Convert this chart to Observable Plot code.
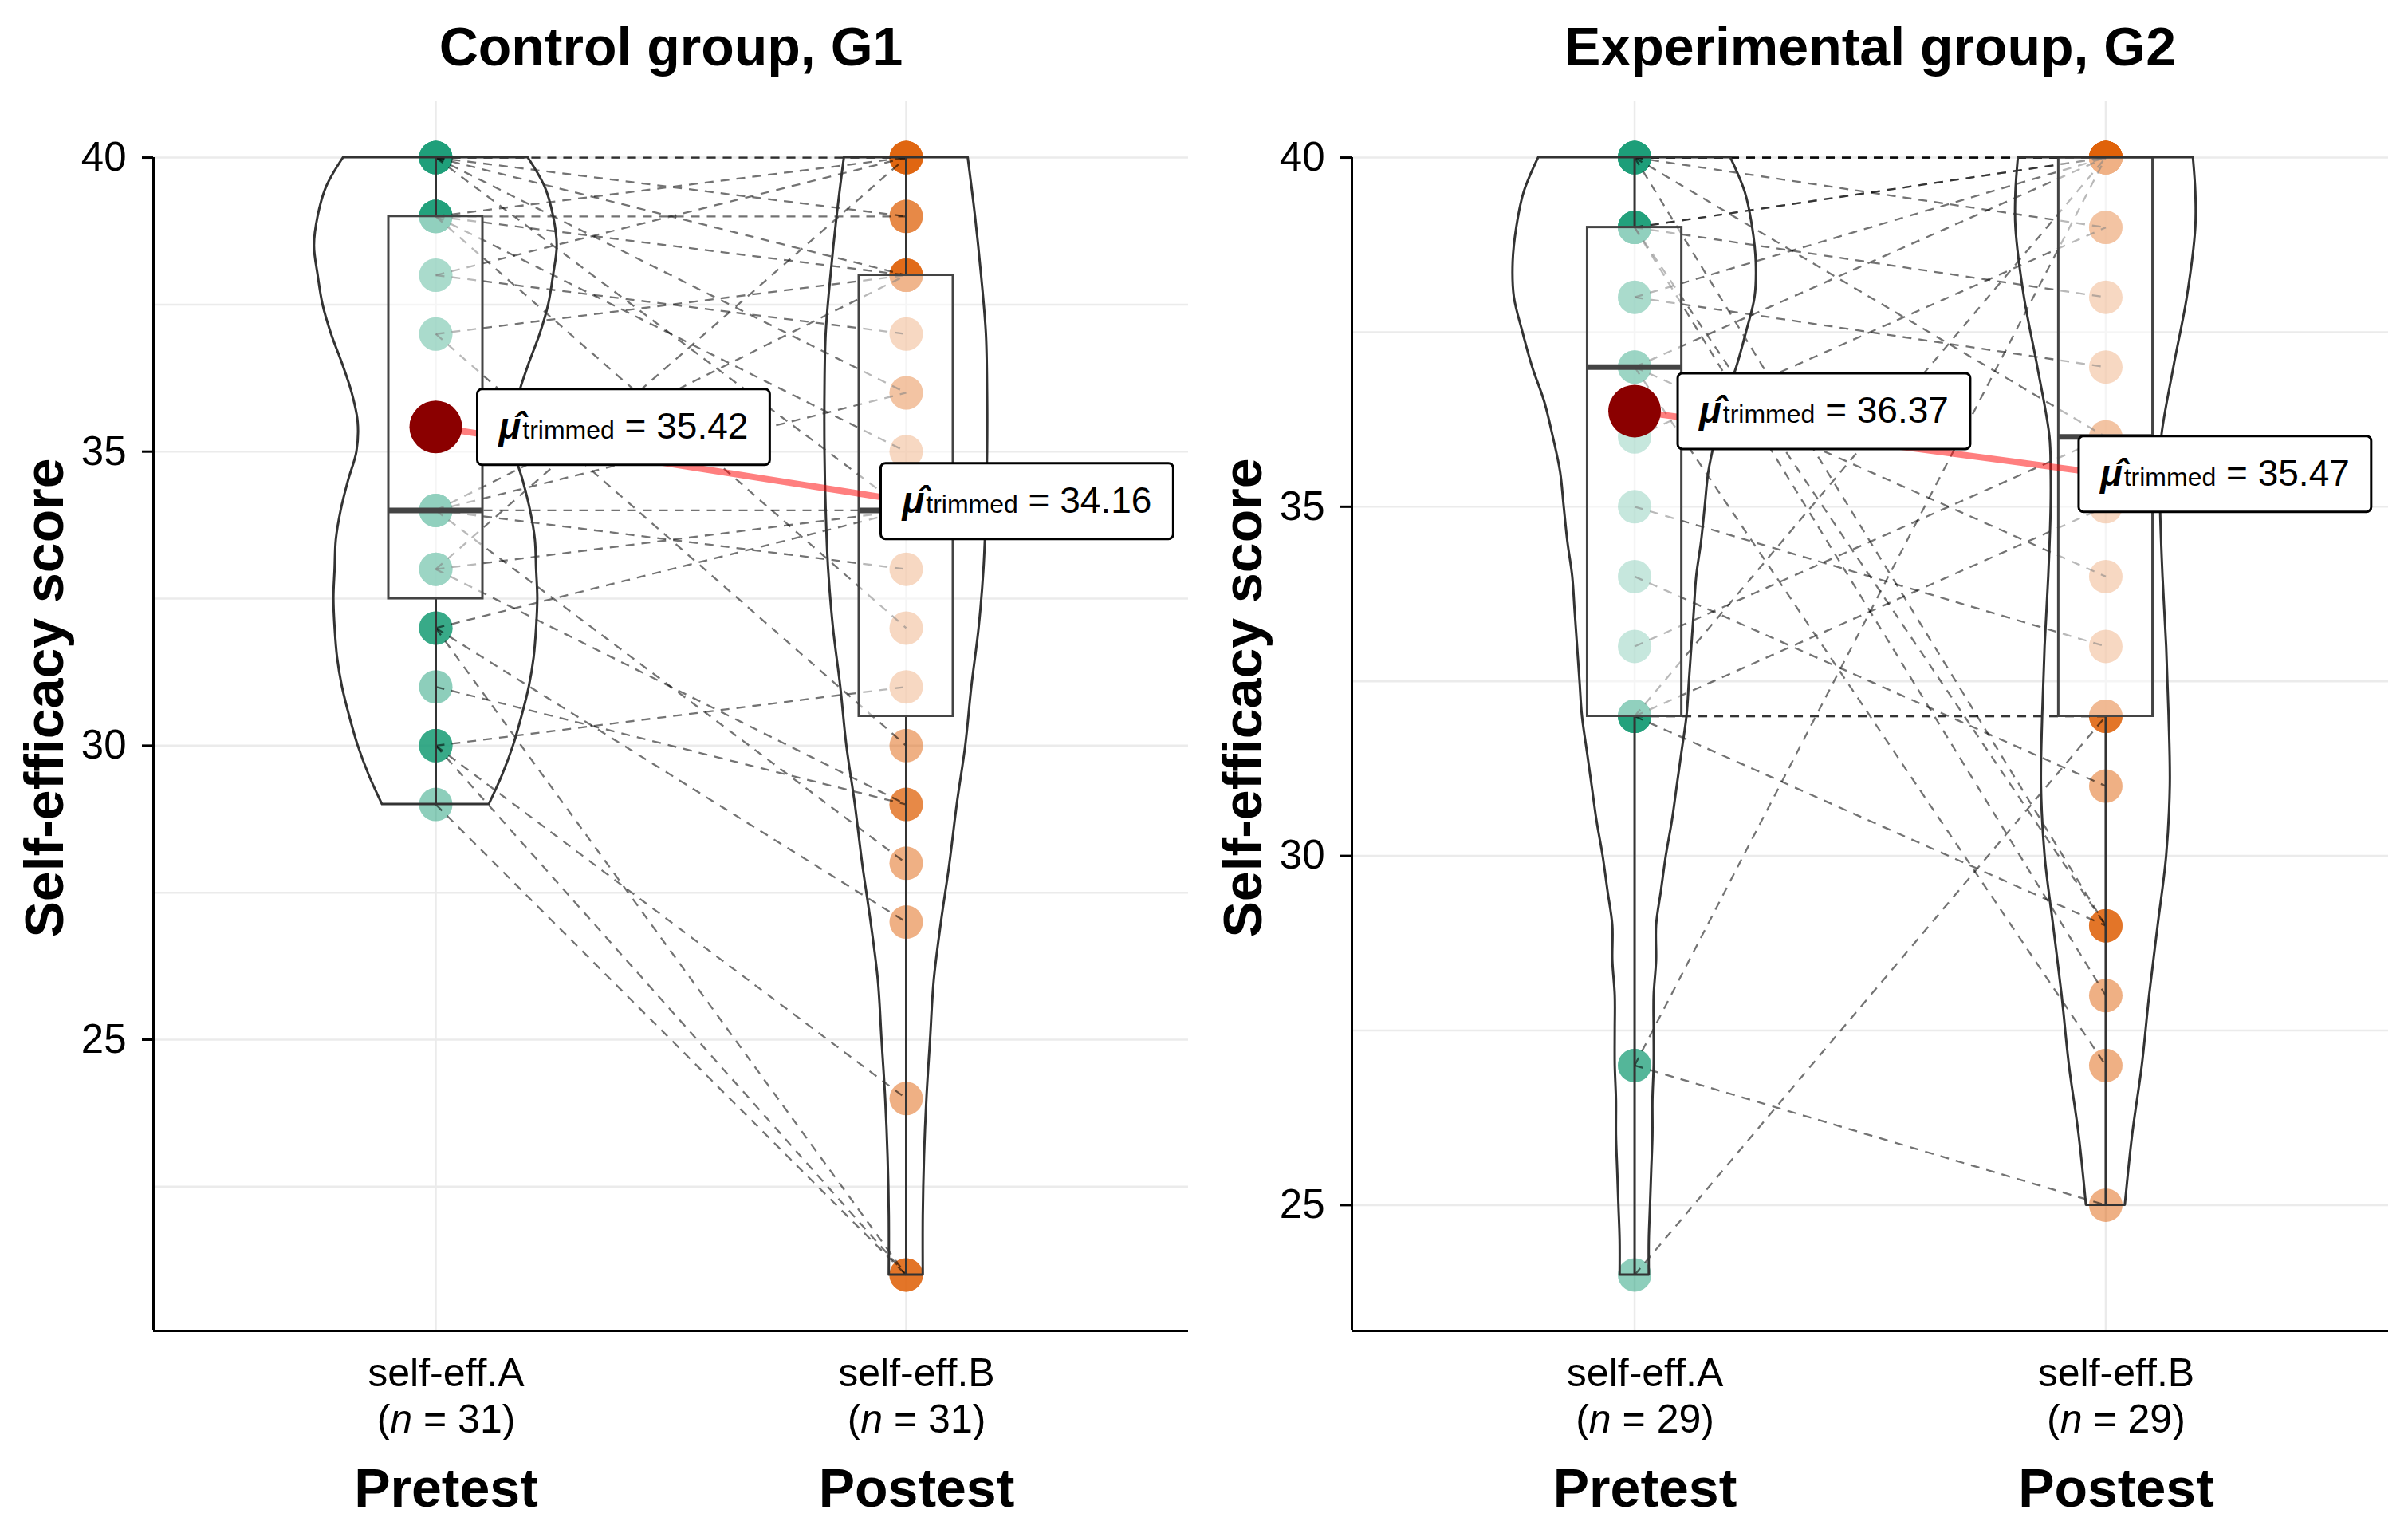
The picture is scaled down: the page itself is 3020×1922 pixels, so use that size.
<!DOCTYPE html>
<html>
<head>
<meta charset="utf-8">
<script src="https://cdn.jsdelivr.net/npm/d3@7"></script>
<script src="https://cdn.jsdelivr.net/npm/@observablehq/plot@0.6"></script>
<style>
  html, body { margin: 0; padding: 0; background: #ffffff; }
  #wrap { display: flex; width: 3020px; height: 1922px; overflow: hidden; }
</style>
</head>
<body>
<div id="wrap"></div>
<script>
// ---------------- data ----------------
const panelTitles = ["Control group, G1", "Experimental group, G2"];
const conditions = ["self-eff.A", "self-eff.B"];
const phases = ["Pretest", "Postest"];
const yTitle = "Self-efficacy score";
const yTicks = [25, 30, 35, 40];
const yMinorG1 = [22.5, 27.5, 32.5, 37.5];
const yMinorG2 = [27.5, 32.5, 37.5];

// paired scores (one entry per participant)
const g1Pre  = [40,40,40,40,40,40,39,39,39,39,39,38,38,37,37,34,34,34,34,34,33,33,33,32,32,32,31,30,30,30,29];
const g1Post = [40,40,39,38,34,36,40,39,38,35,32,40,37,38,30,34,38,33,28,36,34,40,29,34,27,21,29,31,21,24,21];
const g2Pre  = [40,40,40,40,40,40,40,39,39,39,39,39,38,38,37,37,37,36,35,34,33,32,32,32,32,32,27,27,24];
const g2Post = [40,40,40,39,36,29,40,40,40,38,28,29,40,37,40,34,27,39,33,31,36,32,32,29,40,35,40,25,32];

// 20% trimmed means (labels)
const g1Trimmed = [35.42, 34.16];
const g2Trimmed = [36.37, 35.47];

// box statistics: [lower whisker, Q1, median, Q3, upper whisker]
const g1Box = [[29, 32.5, 34, 39, 40], [21, 30.5, 34, 38, 40]];
const g2Box = [[24, 32, 37, 39, 40], [25, 32, 36, 40, 40]];

// violin density profiles (relative density at each score level)
const g1PreViolinY  = [40,39.5,39,38.5,38,37.5,37,36.5,36,35.5,35,34.5,34,33.5,33,32.5,32,31.5,31,30.5,30,29.5,29];
const g1PreViolinD  = [0.76,0.90,0.97,1.0,0.97,0.93,0.86,0.77,0.69,0.64,0.65,0.72,0.78,0.82,0.83,0.84,0.83,0.81,0.77,0.71,0.64,0.55,0.44];
const g1PostViolinY = [40,39,38,37,36,35,34,33,32,31,30,29,28,27,26,25,24,23,22,21];
const g1PostViolinD = [0.51,0.57,0.62,0.66,0.67,0.67,0.66,0.64,0.60,0.54,0.49,0.42,0.36,0.29,0.23,0.20,0.17,0.15,0.14,0.14];
const g2PreViolinY  = [40,39.5,39,38.5,38,37.5,37,36.5,36,35.5,35,34.5,34,33.5,33,32.5,32,31.5,31,30.5,30,29.5,29,28.5,28,27.5,27,26.5,26,25.5,25,24.5,24];
const g2PreViolinD  = [0.79,0.91,0.97,1.0,0.99,0.92,0.84,0.74,0.67,0.61,0.58,0.55,0.51,0.49,0.47,0.45,0.43,0.39,0.35,0.31,0.26,0.22,0.18,0.18,0.16,0.16,0.16,0.15,0.15,0.14,0.13,0.12,0.12];
const g2PostViolinY = [40,39.5,39,38,37,36,35.5,35,34,33,32,31,30,29,28,27,26,25];
const g2PostViolinD = [0.72,0.74,0.74,0.67,0.56,0.46,0.45,0.45,0.47,0.50,0.52,0.53,0.50,0.43,0.36,0.30,0.22,0.16];

// ---------------- styles ----------------
const TEAL = "#1B9E77";
const ORANGE = "#E0620A";
const FONT = "'Liberation Sans', Arial, Helvetica, sans-serif";
const BOX_HALF = 0.1;
const VIOLIN_HALF = 0.258;
const xPos = conditions.map((c, i) => i + 1);

function makePanel(cfg) {
  const obs = cfg.pre.map((v, i) => ({pre: v, post: cfg.post[i]}));
  const all = cfg.pre.concat(cfg.post);
  const [lo, hi] = d3.extent(all);
  const pad = (hi - lo) * 0.05;
  const yDomain = [lo - pad, hi + pad];
  const xDomain = [xPos[0] - 0.6, xPos[1] + 0.6];

  const preRows = cfg.pre.map(v => ({pos: xPos[0], value: v}));
  const postRows = cfg.post.map(v => ({pos: xPos[1], value: v}));
  const boxRows = cfg.box.map((b, i) => ({pos: xPos[i], lo: b[0], q1: b[1], med: b[2], q3: b[3], hi: b[4]}));
  const violinRows = [];
  cfg.violins.forEach((v, i) => v.y.forEach((y, j) => violinRows.push({key: i, pos: xPos[i], y, d: v.d[j]})));
  const meanRows = cfg.means.map((m, i) => ({pos: xPos[i], mean: m, label: m.toFixed(2)}));
  const labelRows = conditions.map((c, i) => ({pos: xPos[i], tick: `${c}\n(n = ${cfg.pre.length})`, phase: phases[i]}));

  return Plot.plot({
    width: 1510,
    height: 1922,
    marginTop: 127,
    marginBottom: 254,
    marginLeft: cfg.marginLeft,
    marginRight: cfg.marginRight,
    x: {domain: xDomain, axis: null},
    y: {domain: yDomain},
    style: {fontFamily: FONT, fontSize: "50px", color: "black", background: "white", maxWidth: "none", overflow: "visible"},
    marks: [
      // grid
      Plot.ruleY(cfg.minor, {stroke: "#EBEBEB", strokeWidth: 2.5}),
      Plot.ruleY(yTicks, {stroke: "#EBEBEB", strokeWidth: 2.5}),
      Plot.ruleX(xPos, {stroke: "#EBEBEB", strokeWidth: 2.5}),
      // points
      Plot.dot(preRows, {x: "pos", y: "value", r: 21, fill: TEAL, fillOpacity: 0.5, stroke: null}),
      Plot.dot(postRows, {x: "pos", y: "value", r: 21, fill: ORANGE, fillOpacity: 0.5, stroke: null}),
      // paired paths
      Plot.link(obs, {x1: () => xPos[0], y1: "pre", x2: () => xPos[1], y2: "post",
        stroke: "black", strokeOpacity: 0.55, strokeWidth: 2.3, strokeDasharray: "11,9"}),
      // boxplots
      Plot.ruleX(boxRows, {x: "pos", y1: "lo", y2: "q1", stroke: "#333", strokeWidth: 3}),
      Plot.ruleX(boxRows, {x: "pos", y1: "q3", y2: "hi", stroke: "#333", strokeWidth: 3}),
      Plot.rect(boxRows, {x1: d => d.pos - BOX_HALF, x2: d => d.pos + BOX_HALF, y1: "q1", y2: "q3",
        fill: "white", fillOpacity: 0.5, stroke: "#444", strokeWidth: 3}),
      Plot.ruleY(boxRows, {x1: d => d.pos - BOX_HALF, x2: d => d.pos + BOX_HALF, y: "med", stroke: "#444", strokeWidth: 7}),
      // violins
      Plot.areaX(violinRows, {z: "key", y: "y", x1: d => d.pos - VIOLIN_HALF * d.d, x2: d => d.pos + VIOLIN_HALF * d.d,
        fill: "none", stroke: "#333", strokeWidth: 3, curve: "catmull-rom"}),
      // trimmed means
      Plot.line(meanRows, {x: "pos", y: "mean", stroke: "red", strokeOpacity: 0.5, strokeWidth: 8}),
      Plot.dot(meanRows, {x: "pos", y: "mean", r: 33, fill: "#8B0000", stroke: null}),
      Plot.text([meanRows[0]], {x: "pos", y: "mean", text: "label", dx: cfg.labelDx[0], textAnchor: "start",
        lineAnchor: "middle", fontSize: 46}),
      Plot.text([meanRows[1]], {x: "pos", y: "mean", text: "label", dx: cfg.labelDx[1], textAnchor: "start",
        lineAnchor: "middle", fontSize: 46}),
      // axes
      Plot.axisY({ticks: yTicks, tickSize: 14, tickPadding: 20, fontSize: 51, label: null, strokeWidth: 3}),
      Plot.ruleX([xDomain[0]], {y1: yDomain[0], y2: d3.max(yTicks), stroke: "black", strokeWidth: 3}),
      Plot.ruleY([yDomain[0]], {stroke: "black", strokeWidth: 3}),
      Plot.text(labelRows, {x: "pos", text: "tick", frameAnchor: "bottom", lineAnchor: "top", dy: 28, dx: 13,
        fontSize: 50, lineHeight: 1.16}),
      Plot.text(labelRows, {x: "pos", text: "phase", frameAnchor: "bottom", lineAnchor: "top", dy: 172, dx: 13,
        fontSize: 68, fontWeight: "bold"}),
      // titles
      Plot.text([yTitle], {frameAnchor: "left", rotate: -90, dx: -135, dy: -23, textAnchor: "middle",
        lineAnchor: "middle", fontSize: 68, fontWeight: "bold"}),
      Plot.text([cfg.title], {frameAnchor: "top", dy: -46, lineAnchor: "bottom", fontSize: 68, fontWeight: "bold"})
    ]
  });
}

const NS = "http://www.w3.org/2000/svg";
function decorate(svg) {
  // trimmed-mean labels: rich text + rounded white box
  Array.from(svg.querySelectorAll("text")).filter(t => /^\d+\.\d\d$/.test(t.textContent.trim())).forEach(t => {
    const value = t.textContent.trim();
    t.textContent = "";
    const mk = (txt, attrs) => {
      const s = document.createElementNS(NS, "tspan");
      s.textContent = txt;
      for (const k in attrs) s.setAttribute(k, attrs[k]);
      t.appendChild(s);
      return s;
    };
    mk("\u03BC\u0302", {"font-weight": "bold", "font-style": "italic"});
    mk("trimmed", {"font-size": "32", dx: "2"});
    mk(" = " + value, {});
    const bb = t.getBBox();
    const r = document.createElementNS(NS, "rect");
    r.setAttribute("x", bb.x - 25);
    r.setAttribute("y", -47.5);
    r.setAttribute("width", bb.width + 52);
    r.setAttribute("height", 95);
    r.setAttribute("rx", 6);
    r.setAttribute("fill", "white");
    r.setAttribute("fill-opacity", 1);
    r.setAttribute("stroke", "black");
    r.setAttribute("stroke-width", 3);
    const tr = t.getAttribute("transform");
    if (tr) r.setAttribute("transform", tr);
    t.parentNode.insertBefore(r, t);
  });
  // italic n in sample-size labels
  Array.from(svg.querySelectorAll("tspan")).forEach(s => {
    const m = s.textContent.match(/^\(n = (\d+)\)$/);
    if (!m) return;
    s.textContent = "";
    s.appendChild(document.createTextNode("("));
    const it = document.createElementNS(NS, "tspan");
    it.setAttribute("font-style", "italic");
    it.textContent = "n";
    s.appendChild(it);
    s.appendChild(document.createTextNode(" = " + m[1] + ")"));
  });
}

const wrap = document.getElementById("wrap");
const panels = [
  {title: panelTitles[0], pre: g1Pre, post: g1Post, box: g1Box, means: g1Trimmed, minor: yMinorG1,
   violins: [{y: g1PreViolinY, d: g1PreViolinD}, {y: g1PostViolinY, d: g1PostViolinD}],
   marginLeft: 192, marginRight: 20, labelDx: [79, -5]},
  {title: panelTitles[1], pre: g2Pre, post: g2Post, box: g2Box, means: g2Trimmed, minor: yMinorG2,
   violins: [{y: g2PreViolinY, d: g2PreViolinD}, {y: g2PostViolinY, d: g2PostViolinD}],
   marginLeft: 185, marginRight: 25, labelDx: [81, -7]}
];
panels.forEach(p => {
  const svg = makePanel(p);
  wrap.appendChild(svg);
  decorate(svg);
});
</script>
</body>
</html>
